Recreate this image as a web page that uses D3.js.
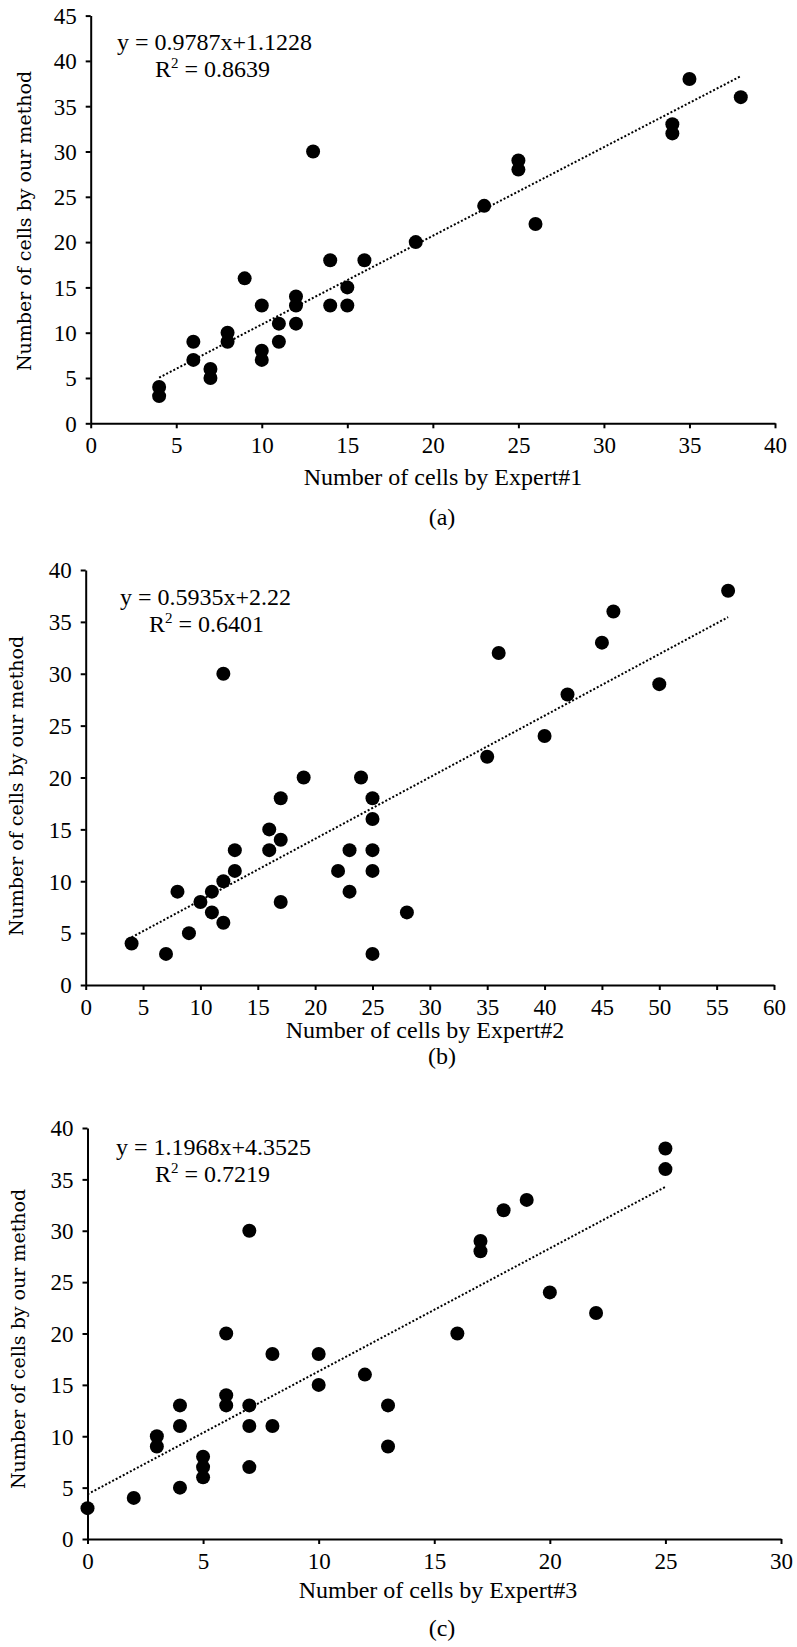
<!DOCTYPE html>
<html>
<head>
<meta charset="utf-8">
<script src="https://cdn.jsdelivr.net/npm/d3@7"></script>
<style>
  body { margin: 0; background: #fff; }
  svg { display: block; }
  .tick line, .domain { stroke: #000; stroke-width: 2px; }
  .tick text { fill: #000; }
</style>
</head>
<body>
<svg id="chart" width="797" height="1647"></svg>
<script>
// panel (a): Expert#1 vs our method
const expert1 = [4, 4, 6, 6, 7, 7, 8, 8, 9, 10, 10, 10, 11, 11, 12, 12, 12, 13, 14, 14, 15, 15, 16, 19, 23, 25, 25, 26, 34, 34, 35, 38]
const ours1 = [4, 3, 9, 7, 6, 5, 10, 9, 16, 13, 8, 7, 11, 9, 14, 13, 11, 30, 18, 13, 15, 13, 18, 20, 24, 29, 28, 22, 33, 32, 38, 36]

// panel (b): Expert#2 vs our method
const expert2 = [4, 7, 8, 9, 10, 11, 11, 12, 12, 12, 13, 13, 16, 16, 17, 17, 17, 19, 22, 23, 23, 24, 25, 25, 25, 25, 25, 28, 35, 36, 40, 42, 45, 46, 50, 56]
const ours2 = [4, 3, 9, 5, 8, 9, 7, 10, 6, 30, 13, 11, 15, 13, 18, 14, 8, 20, 11, 13, 9, 20, 18, 16, 13, 11, 3, 7, 22, 32, 24, 28, 33, 36, 29, 38]

// panel (c): Expert#3 vs our method
const expert3 = [0, 2, 3, 3, 4, 4, 4, 5, 5, 5, 6, 6, 6, 7, 7, 7, 7, 8, 8, 10, 10, 12, 13, 13, 16, 17, 17, 18, 19, 20, 22, 25, 25]
const ours3 = [3, 4, 10, 9, 13, 11, 5, 8, 7, 6, 20, 14, 13, 30, 13, 11, 7, 18, 11, 18, 15, 16, 13, 9, 20, 29, 28, 32, 33, 24, 22, 38, 36]

// linear fits printed on the chart
const fitSlope = [0.9787, 0.5935, 1.1968]
const fitIntercept = [1.1228, 2.22, 4.3525]
const fitSlopeText = ["0.9787", "0.5935", "1.1968"]
const fitInterceptText = ["1.1228", "2.22", "4.3525"]
const fitR2Text = ["0.8639", "0.6401", "0.7219"]

const xTitles = ["Number of cells by Expert#1", "Number of cells by Expert#2", "Number of cells by Expert#3"]
const yTitle = "Number of cells by our method"
const panelTags = ["(a)", "(b)", "(c)"]
const xMax = [40, 60, 30]
const yMax = [45, 40, 40]
const tickStep = 5

const serif = "'Liberation Serif', 'Times New Roman', serif"

class Panel {

    constructor(svg, idx, xs, ys, box) {
        this.svg = svg
        this.idx = idx
        this.xs = xs
        this.ys = ys
        this.box = box

        this.x = d3.scaleLinear().domain([0, xMax[idx]]).range([box.left, box.right])
        this.y = d3.scaleLinear().domain([0, yMax[idx]]).range([box.bottom, box.top])
    }

    draw() {
        this.drawAxes()
        this.drawTrend()
        this.drawPoints()
        this.drawTexts()
    }

    drawAxes() {
        let b = this.box

        let xAxis = d3.axisBottom(this.x)
            .tickValues(d3.range(0, xMax[this.idx] + 1, tickStep))
            .tickSize(5).tickSizeOuter(0)
        let gx = this.svg.append('g')
            .attr('transform', `translate(0,${b.bottom})`)
            .call(xAxis)
        gx.selectAll('.tick text')
            .attr('y', 30).attr('dy', null)

        let yAxis = d3.axisLeft(this.y)
            .tickValues(d3.range(0, yMax[this.idx] + 1, tickStep))
            .tickSize(5).tickSizeOuter(0)
        let gy = this.svg.append('g')
            .attr('transform', `translate(${b.left},0)`)
            .call(yAxis)
        gy.selectAll('.tick text')
            .attr('x', -14).attr('dy', '0.34em')

        for (let g of [gx, gy]) {
            g.attr('font-family', serif).attr('font-size', 23)
        }
    }

    drawTrend() {
        let lo = d3.min(this.xs), hi = d3.max(this.xs)
        let m = fitSlope[this.idx], c = fitIntercept[this.idx]
        this.svg.append('line')
            .attr('x1', this.x(lo)).attr('y1', this.y(m * lo + c))
            .attr('x2', this.x(hi)).attr('y2', this.y(m * hi + c))
            .attr('stroke', '#000')
            .attr('stroke-width', 2)
            .attr('stroke-dasharray', '2,2')
    }

    drawPoints() {
        let pts = this.xs.map((v, i) => ({ x: v, y: this.ys[i] }))
        this.svg.append('g')
            .selectAll('circle')
            .data(pts)
            .join('circle')
            .attr('cx', d => this.x(d.x))
            .attr('cy', d => this.y(d.y))
            .attr('r', 7)
            .attr('fill', '#000')
    }

    drawTexts() {
        let b = this.box
        let i = this.idx

        this.svg.append('text')
            .attr('x', b.eqX).attr('y', b.eqY)
            .attr('font-family', serif).attr('font-size', 24)
            .text(`y = ${fitSlopeText[i]}x+${fitInterceptText[i]}`)

        let r2 = this.svg.append('text')
            .attr('x', b.r2X).attr('y', b.eqY + 27)
            .attr('font-family', serif).attr('font-size', 24)
        r2.append('tspan').text('R')
        r2.append('tspan').attr('dy', -9).attr('font-size', 15).text('2')
        r2.append('tspan').attr('dy', 9).text(` = ${fitR2Text[i]}`)

        this.svg.append('text')
            .attr('x', b.titleX).attr('y', b.titleY)
            .attr('text-anchor', 'middle')
            .attr('font-family', serif).attr('font-size', 24)
            .text(xTitles[i])

        this.svg.append('text')
            .attr('x', 442).attr('y', b.tagY)
            .attr('text-anchor', 'middle')
            .attr('font-family', serif).attr('font-size', 24)
            .text(panelTags[i])

        this.svg.append('text')
            .attr('transform', `translate(${b.yLabelX},${b.yLabelY}) rotate(-90)`)
            .attr('text-anchor', 'middle')
            .attr('font-family', "'DejaVu Serif', serif").attr('font-size', 19)
            .text(yTitle)
    }
}

const svg = d3.select('#chart')
svg.append('rect').attr('width', 797).attr('height', 1647).attr('fill', '#fff')

const boxes = [
    { left: 90.7, right: 775, top: 15.6, bottom: 423.3, eqX: 117, r2X: 155, eqY: 50, titleX: 443, titleY: 485, tagY: 525, yLabelX: 31, yLabelY: 221 },
    { left: 85.7, right: 774, top: 570, bottom: 985, eqX: 120, r2X: 149, eqY: 605, titleX: 425, titleY: 1038, tagY: 1064, yLabelX: 23, yLabelY: 786 },
    { left: 87.5, right: 781, top: 1128, bottom: 1539, eqX: 116, r2X: 155, eqY: 1155, titleX: 438, titleY: 1598, tagY: 1636, yLabelX: 25, yLabelY: 1339 }
]

const series = [[expert1, ours1], [expert2, ours2], [expert3, ours3]]

series.forEach((s, i) => new Panel(svg, i, s[0], s[1], boxes[i]).draw())
</script>
</body>
</html>
